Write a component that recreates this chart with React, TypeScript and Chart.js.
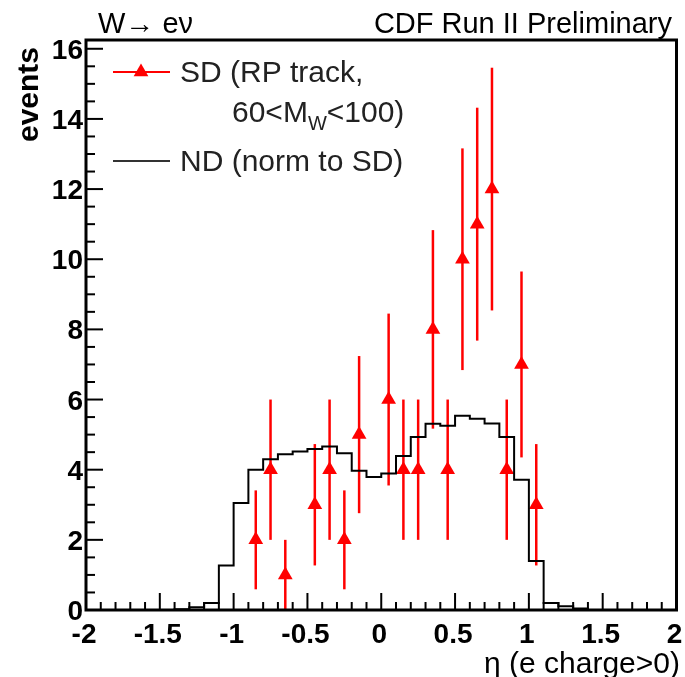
import React, { useEffect, useRef } from "react";
import { Chart, registerables } from "chart.js";

Chart.register(...registerables);

// SD (RP track, 60<M_W<100): bin centres, counts, errors
const sdEta = [-0.85, -0.75, -0.65, -0.45, -0.35, -0.25, -0.15, 0.05, 0.15, 0.25, 0.35, 0.45, 0.55, 0.65, 0.75, 0.85, 0.95, 1.05];
const sdEvents = [2, 4, 1, 3, 4, 2, 5, 6, 4, 4, 8, 4, 10, 11, 12, 4, 7, 3];
const sdErrors = [1.41, 2, 1, 1.73, 2, 1.41, 2.24, 2.45, 2, 2, 2.83, 2, 3.16, 3.32, 3.46, 2, 2.65, 1.73];

// ND (norm to SD): histogram from -2 to 2, 40 bins of 0.1
const ndLow = -2;
const ndHigh = 2;
const ndBinWidth = 0.1;
const ndEvents = [
  0, 0, 0, 0, 0, 0, 0.02, 0.08, 0.2, 1.27,
  3.05, 4.0, 4.3, 4.44, 4.52, 4.59, 4.66, 4.47, 3.97, 3.79,
  3.89, 4.39, 4.93, 5.31, 5.25, 5.54, 5.45, 5.32, 4.93, 3.71,
  1.4, 0.2, 0.11, 0.04, 0, 0, 0, 0, 0, 0,
];

const xTickValues = [-2, -1.5, -1, -0.5, 0, 0.5, 1, 1.5, 2];
const xTickLabels = ["-2", "-1.5", "-1", "-0.5", "0", "0.5", "1", "1.5", "2"];
const yTickValues = [0, 2, 4, 6, 8, 10, 12, 14, 16];
const yTickLabels = ["0", "2", "4", "6", "8", "10", "12", "14", "16"];

const FONT = '"Liberation Sans", Arial, Helvetica, sans-serif';
const RED = "#ff0000";

function drawTriangle(ctx: CanvasRenderingContext2D, x: number, y: number, r: number) {
  ctx.beginPath();
  for (let i = 0; i < 3; i++) {
    const a = (i * 2 * Math.PI) / 3;
    const px = x + Math.sin(a) * r;
    const py = y - Math.cos(a) * r;
    if (i === 0) ctx.moveTo(px, py);
    else ctx.lineTo(px, py);
  }
  ctx.closePath();
  ctx.fill();
}

const rootPlugin = {
  id: "rootStyle",
  beforeDatasetDraw(chart: any, args: any) {
    if (args.index !== 1) return;
    const ctx = chart.ctx as CanvasRenderingContext2D;
    const xs = chart.scales.x;
    const ys = chart.scales.y;
    ctx.save();
    ctx.strokeStyle = RED;
    ctx.lineWidth = 2.5;
    for (let i = 0; i < sdEta.length; i++) {
      const px = xs.getPixelForValue(sdEta[i]);
      const lo = Math.max(0, sdEvents[i] - sdErrors[i]);
      const hi = sdEvents[i] + sdErrors[i];
      ctx.beginPath();
      ctx.moveTo(px, ys.getPixelForValue(lo));
      ctx.lineTo(px, ys.getPixelForValue(hi));
      ctx.stroke();
    }
    ctx.restore();
  },
  afterDraw(chart: any) {
    const ctx = chart.ctx as CanvasRenderingContext2D;
    const xs = chart.scales.x;
    const ys = chart.scales.y;
    const a = chart.chartArea;
    ctx.save();
    // ticks inside frame
    ctx.strokeStyle = "#000";
    ctx.lineWidth = 2;
    for (let k = -20; k <= 20; k++) {
      const px = xs.getPixelForValue(k / 10);
      const len = k % 5 === 0 ? 17 : 8;
      ctx.beginPath();
      ctx.moveTo(px, a.bottom);
      ctx.lineTo(px, a.bottom - len);
      ctx.stroke();
    }
    for (let k = 0; k <= 32; k++) {
      const py = ys.getPixelForValue(k * 0.5);
      const len = k % 4 === 0 ? 17 : 9;
      ctx.beginPath();
      ctx.moveTo(a.left, py);
      ctx.lineTo(a.left + len, py);
      ctx.stroke();
    }
    // frame
    ctx.lineWidth = 3;
    ctx.strokeRect(a.left, a.top, a.right - a.left, a.bottom - a.top);

    // tick labels
    ctx.fillStyle = "#000";
    ctx.font = `bold 28px ${FONT}`;
    ctx.textAlign = "center";
    ctx.textBaseline = "alphabetic";
    xTickValues.forEach((v, i) => {
      ctx.fillText(xTickLabels[i], xs.getPixelForValue(v) - 2, 643);
    });
    ctx.textAlign = "right";
    yTickValues.forEach((v, i) => {
      ctx.fillText(yTickLabels[i], a.left - 3, ys.getPixelForValue(v) + 10);
    });

    // axis titles
    ctx.font = `30px ${FONT}`;
    ctx.textAlign = "right";
    ctx.fillText("\u03b7 (e charge>0)", 680, 673);
    ctx.save();
    ctx.translate(38, 47);
    ctx.rotate(-Math.PI / 2);
    ctx.font = `bold 30px ${FONT}`;
    ctx.textAlign = "right";
    ctx.textBaseline = "alphabetic";
    ctx.fillText("events", 0, 0);
    ctx.restore();

    // top texts
    ctx.font = `29px ${FONT}`;
    ctx.textAlign = "left";
    ctx.fillText("W\u2192 e\u03bd", 98, 33);
    ctx.textAlign = "right";
    ctx.fillText("CDF Run II Preliminary", 672, 33);

    // legend
    ctx.strokeStyle = RED;
    ctx.lineWidth = 2;
    ctx.beginPath();
    ctx.moveTo(113, 72);
    ctx.lineTo(170, 72);
    ctx.stroke();
    ctx.fillStyle = RED;
    drawTriangle(ctx, 141, 72, 8.5);
    ctx.strokeStyle = "#333";
    ctx.beginPath();
    ctx.moveTo(113, 161);
    ctx.lineTo(170, 161);
    ctx.stroke();

    ctx.fillStyle = "#222";
    ctx.textAlign = "left";
    ctx.font = `30px ${FONT}`;
    ctx.fillText("SD (RP track,", 180, 82);
    let x = 232;
    ctx.fillText("60<M", x, 122);
    x += ctx.measureText("60<M").width;
    ctx.font = `20px ${FONT}`;
    ctx.fillText("W", x, 130);
    x += ctx.measureText("W").width;
    ctx.font = `30px ${FONT}`;
    ctx.fillText("<100)", x, 122);
    ctx.fillText("ND (norm to SD)", 180, 171);
    ctx.restore();
  },
};

export default function App() {
  const ref = useRef<HTMLCanvasElement | null>(null);
  useEffect(() => {
    if (!ref.current) return;
    const ndPoints = ndEvents.map((v, i) => ({ x: ndLow + i * ndBinWidth, y: v }));
    ndPoints.push({ x: ndHigh, y: ndEvents[ndEvents.length - 1] });
    const sdPoints = sdEta.map((x, i) => ({ x, y: sdEvents[i] }));
    const chart = new Chart(ref.current, {
      type: "scatter",
      data: {
        datasets: [
          {
            type: "line",
            label: "ND (norm to SD)",
            data: ndPoints,
            borderColor: "#000",
            borderWidth: 2,
            pointRadius: 0,
            stepped: "before",
            fill: false,
            order: 0,
          } as any,
          {
            type: "scatter",
            label: "SD (RP track, 60<MW<100)",
            data: sdPoints,
            pointStyle: "triangle",
            pointRadius: 8.5,
            pointHoverRadius: 8.5,
            backgroundColor: RED,
            borderColor: RED,
            borderWidth: 0,
            order: 1,
          } as any,
        ],
      },
      options: {
        animation: false,
        responsive: false,
        maintainAspectRatio: false,
        devicePixelRatio: 1,
        layout: { padding: { top: 40, right: 5, left: 0, bottom: 0 } },
        plugins: { legend: { display: false }, tooltip: { enabled: false } },
        scales: {
          x: {
            type: "linear",
            min: -2,
            max: 2,
            ticks: { display: false },
            grid: { display: false },
            border: { display: false },
            afterFit: (s: any) => {
              s.height = 67;
            },
          },
          y: {
            type: "linear",
            min: 0,
            max: 16.25,
            ticks: { display: false },
            grid: { display: false },
            border: { display: false },
            afterFit: (s: any) => {
              s.width = 86;
            },
          },
        },
      } as any,
      plugins: [rootPlugin],
    });
    return () => chart.destroy();
  }, []);
  return (
    <div style={{ position: "absolute", left: 0, top: 0, width: 685, height: 677, background: "#fff" }}>
      <canvas ref={ref} width={685} height={677} style={{ width: 685, height: 677, display: "block" }} />
    </div>
  );
}
